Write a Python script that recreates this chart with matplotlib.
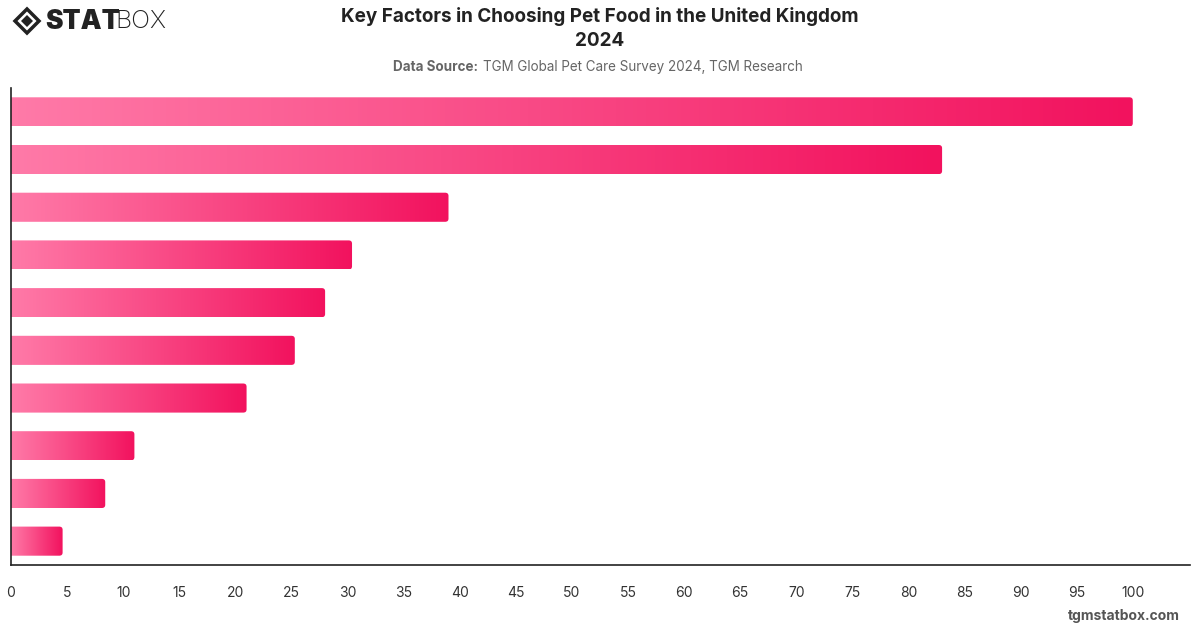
import numpy as np
import matplotlib
matplotlib.use("Agg")
import matplotlib.pyplot as plt
from matplotlib.patches import FancyBboxPatch, Polygon
from matplotlib.colors import LinearSegmentedColormap

plt.rcParams['font.family'] = ['Inter', 'DejaVu Sans']

# values, top bar first (category labels are not shown)
factors = ['F1', 'F2', 'F3', 'F4', 'F5', 'F6', 'F7', 'F8', 'F9', 'F10']
values = [100, 83, 39, 30.4, 28, 25.3, 21, 11, 8.4, 4.6]
ticks = list(range(0, 101, 5))

W, H = 1200, 628
fig = plt.figure(figsize=(W / 100, H / 100), dpi=100)
ax = fig.add_axes([11 / W, (H - 565) / H, (1190 - 11) / W, (565 - 88) / H])

cmap = LinearSegmentedColormap.from_list('pink', ['#ff7aa8', '#f2125e'])
grad = np.linspace(0, 1, 256).reshape(1, -1)
bar_h = 0.61

for i, v in enumerate(values):
    y = i
    box = FancyBboxPatch((-1, y - bar_h / 2), v + 1, bar_h,
                         boxstyle='round,pad=0,rounding_size=0.3',
                         mutation_aspect=0.22, linewidth=0,
                         facecolor='none')
    ax.add_patch(box)
    im = ax.imshow(grad, cmap=cmap, aspect='auto',
                   extent=(0, v, y + bar_h / 2, y - bar_h / 2),
                   interpolation='bilinear')
    im.set_clip_path(box)

ax.set_xlim(0, 105.1)
ax.set_ylim(9.5, -0.5)
ax.set_xticks(ticks)
ax.set_xticklabels([str(t) for t in ticks], fontsize=10, color='#333333')
ax.tick_params(axis='x', length=0, pad=15)
ax.set_yticks([])
for s in ['top', 'right']:
    ax.spines[s].set_visible(False)
for s in ['left', 'bottom']:
    ax.spines[s].set_color('#222222')
    ax.spines[s].set_linewidth(1.2)

# titles
fig.text(600 / W, 1 - 17 / H, 'Key Factors in Choosing Pet Food in the United Kingdom',
         ha='center', va='center', fontsize=13.6, fontweight='bold', color='#222222')
fig.text(600 / W, 1 - 41 / H, '2024', ha='center', va='center',
         fontsize=13.6, fontweight='bold', color='#222222')
fig.text(393 / W, 1 - 67 / H, 'Data Source: ', ha='left', va='center',
         fontsize=9.7, fontweight='bold', color='#666666')
fig.text(483 / W, 1 - 67 / H, 'TGM Global Pet Care Survey 2024, TGM Research',
         ha='left', va='center', fontsize=9.7, color='#666666')

# footer
fig.text(1180 / W, 1 - 616 / H, 'tgmstatbox.com', ha='right', va='center',
         fontsize=10, fontweight='bold', color='#555555')

# logo
cx, cy = 27 / W, 1 - 21 / H
dx, dy = 12 / W, 12 / H
fig.patches.append(Polygon([(cx - dx, cy), (cx, cy + dy), (cx + dx, cy), (cx, cy - dy)],
                           closed=True, facecolor='none', edgecolor='#222222',
                           linewidth=2.5, transform=fig.transFigure))
fig.patches.append(Polygon([(cx - dx * 0.5, cy), (cx, cy + dy * 0.5), (cx + dx * 0.5, cy),
                            (cx, cy - dy * 0.5)], closed=True, facecolor='#222222',
                           transform=fig.transFigure))
stat = fig.text(45 / W, 1 - 22 / H, 'STAT', ha='left', va='center', fontsize=19,
                fontweight='black', color='#222222')
r = fig.canvas.get_renderer()
x_end = stat.get_window_extent(r).x1
fig.text((x_end - 4) / W, 1 - 22 / H, 'BOX', ha='left', va='center', fontsize=18,
         fontweight='light', color='#222222')

fig.savefig('out.png', dpi=100)
